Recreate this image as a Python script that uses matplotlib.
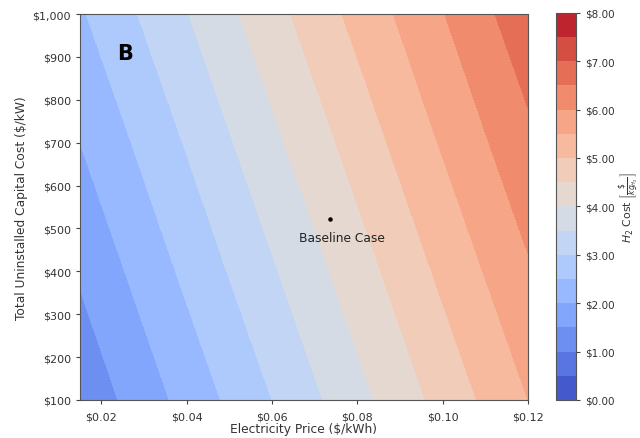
import matplotlib
matplotlib.use("Agg")
import matplotlib.pyplot as plt
import numpy as np

# grid: electricity price ($/kWh), capital cost ($/kW)
prices = [0.015, 0.04, 0.06, 0.08, 0.10, 0.12]
capex = [100, 400, 700, 1000]
# H2 cost ($/kg), one row per capital cost
h2_cost = [
    [1.13, 2.17, 3.00, 3.84, 4.67, 5.50],
    [1.56, 2.61, 3.44, 4.27, 5.11, 5.94],
    [2.00, 3.04, 3.88, 4.71, 5.55, 6.38],
    [2.44, 3.48, 4.32, 5.15, 5.98, 6.82],
]
levels = np.arange(0, 8.5, 0.5)
cbar_ticks = [0, 1, 2, 3, 4, 5, 6, 7, 8]
baseline_price = 0.0735
baseline_capex = 523

fig = plt.figure(figsize=(6.4, 4.39), dpi=100)
ax = fig.add_axes([0.125, 0.0866, 0.7, 0.879])
cax = fig.add_axes([0.869, 0.0866, 0.031, 0.882])

cs = ax.contourf(prices, capex, h2_cost, levels=levels, cmap='coolwarm',
                 vmin=0, vmax=8)
ax.set_xlim(0.015, 0.12)
ax.set_ylim(100, 1000)

ax.scatter([baseline_price], [baseline_capex], s=5, color='black', zorder=3)
ax.text(baseline_price + 0.0029, baseline_capex - 43, 'Baseline Case',
        ha='center', va='center', fontsize=8.8, color='#222222')
ax.text(0.1, 0.9, 'B', transform=ax.transAxes, fontsize=15,
        fontweight='bold', ha='center', va='center')

ax.set_xticks([0.02, 0.04, 0.06, 0.08, 0.10, 0.12])
ax.set_xticklabels(['$%.2f' % v for v in [0.02, 0.04, 0.06, 0.08, 0.10, 0.12]])
ax.set_yticks(range(100, 1001, 100))
ax.set_yticklabels(['$' + format(v, ',') for v in range(100, 1001, 100)])
ax.tick_params(labelsize=8, length=3, color='#444444', labelcolor='#333333')
ax.tick_params(axis='x', pad=5)
ax.set_xlabel('Electricity Price ($/kWh)', fontsize=8.8, color='#333333',
              labelpad=1)
ax.set_ylabel('Total Uninstalled Capital Cost ($/kW)', fontsize=8.8,
              color='#333333', labelpad=3)
for sp in ax.spines.values():
    sp.set_color('#555555')

cb = fig.colorbar(cs, cax=cax, ticks=cbar_ticks)
cb.ax.set_yticklabels(['$%.2f' % v for v in cbar_ticks])
cb.ax.tick_params(labelsize=7.5, length=3, color='#444444', labelcolor='#333333')
cb.outline.set_edgecolor('#555555')
cb.set_label(r'$H_2$ Cost $\left[\frac{\$}{kg_{H_2}}\right]$', fontsize=7.8,
             color='#333333', labelpad=1)

fig.savefig('out.png', dpi=100)
